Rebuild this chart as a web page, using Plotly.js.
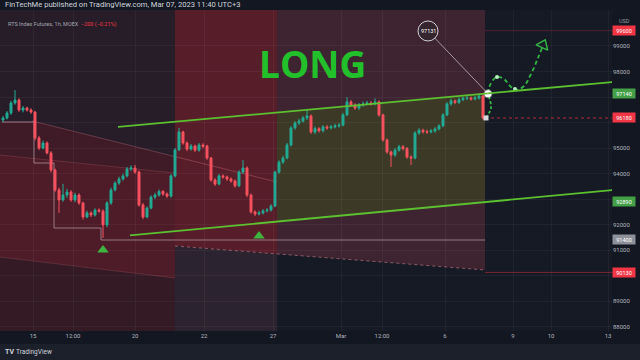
<!DOCTYPE html>
<html><head><meta charset="utf-8">
<script src="https://cdn.plot.ly/plotly-3.0.1.min.js"></script>
<style>html,body{margin:0;padding:0;background:#131722;}#chart{width:640px;height:360px;}</style>
</head><body><div id="chart"></div>
<script>
// ---- candle data (RTS Index Futures, 1h, MOEX) ----
const openP = [96100,96180,96375,96767,96884,96490,96570,96490,96410,95395,
95000,95200,94810,94140,93360,92970,93160,93280,92970,93160,
92850,92300,92460,92380,92570,92530,91990,92850,93360,93630,
93790,93910,94180,94220,94060,92770,92300,92650,93080,93160,
93300,93200,93120,93910,94930,95630,95200,94960,95080,94920,
95120,95080,94610,93750,93590,93910,93870,93790,93710,93520,
94060,94220,93160,92500,92420,92460,92540,92570,92730,94060,
94450,94610,95120,95790,95980,96060,96180,96260,95630,95760,
95680,95830,95790,95830,95870,95900,96300,96810,96690,96570,
96690,96730,96770,96730,96810,96300,95320,94850,94730,94920,
95050,94980,94650,94610,95590,95700,95640,95630,95670,95750,
95870,96300,96730,96850,96790,96900,96950,96960,96920,96960,
97040];
const highP = [96260,96450,96850,97276,96950,96650,96620,96560,96460,95480,
95300,95260,94880,94200,93450,93600,93400,93350,93250,93230,
92900,92550,92520,92640,92640,92600,92920,93450,93700,93880,
94000,94260,94330,94340,94120,92850,92720,93150,93250,93380,
93360,93260,93980,95000,95790,95680,95260,95160,95140,95200,
95190,95130,94660,93820,93990,93970,93920,93850,93770,94130,
94530,94280,93220,92560,92540,92610,92650,92800,94120,94520,
94700,95200,95860,96060,96150,96260,96490,96320,95850,95820,
95900,95900,95910,95950,95980,96380,97000,96880,96760,96770,
96820,96850,96840,96950,96870,96350,95380,94900,95000,95130,
95120,95040,94720,95660,95780,95760,95720,95750,95820,95940,
96370,96800,96940,96900,96980,97020,97050,97020,97040,97110,
97140];
const lowP = [96020,96120,96300,96700,96420,96400,96430,96340,95300,94920,
94950,94750,94050,93280,92460,92900,93050,92900,92880,92780,
92200,92250,92300,92320,92470,91480,91900,92780,93300,93560,
93720,93850,94100,93990,92700,92220,92250,92600,93000,93100,
93130,93050,93060,93850,94880,95130,94880,94900,94850,94860,
95000,94540,93680,93520,93540,93800,93720,93640,93450,93470,
94000,93080,92430,92340,92360,92400,92480,92510,92680,93990,
94380,94560,95060,95720,95900,96000,96100,95560,95550,95610,
95620,95720,95730,95770,95800,95850,96250,96620,96500,96500,
96620,96680,96660,96680,96230,95250,94780,94260,94660,94860,
94910,94580,94340,94560,95520,95570,95560,95580,95600,95690,
95820,96250,96660,96720,96730,96840,96880,96860,96870,96900,
96120];
const closeP = [96180,96375,96767,96884,96490,96570,96490,96410,95395,95000,
95200,94810,94140,93360,92970,93160,93280,92970,93160,92850,
92300,92460,92380,92570,92530,91990,92850,93360,93630,93790,
93910,94180,94220,94060,92770,92300,92650,93080,93160,93300,
93200,93120,93910,94930,95630,95200,94960,95080,94920,95120,
95080,94610,93750,93590,93910,93870,93790,93710,93520,94060,
94220,93160,92500,92420,92460,92540,92570,92730,94060,94450,
94610,95120,95790,95980,96060,96180,96260,95630,95760,95680,
95830,95790,95830,95870,95900,96300,96810,96690,96570,96690,
96730,96770,96730,96810,96300,95320,94850,94730,94920,95050,
94980,94650,94610,95590,95700,95640,95630,95670,95750,95870,
96300,96730,96850,96790,96900,96950,96960,96920,96960,97040,
96180];
const barIdx = closeP.map((_, i) => i);

// ---- axes ----
const timeTicks  = [7.5, 17.5, 33, 50.25, 67.5, 84.5, 94.75, 110.5, 127.5, 137, 151.25];
const timeLabels = ['15','12:00','20','22','27','Mar','12:00','6','9','10','13'];
const priceTicks  = [88000,89000,90000,91000,92000,93000,94000,95000,96000,97000,98000,99000];
const priceLabels = ['88000','89000','','91000','92000','','94000','95000','','','98000','99000'];
const xRange = [-0.75, 152.25];
const yRange = [87834, 100410];

// ---- drawings (time index, price) ----
const upperChannelT = [28.75, 153.25], upperChannelP = [95830, 97600];
const lowerChannelT = [31.75, 152.25], lowerChannelP = [91580, 93350];
const signalT = [25, 64], signalP = [91007, 91556];
const riseT = [120.75, 122.0, 121.6, 121.25], riseP = [96180, 96571, 96960, 97131];
const forecastT = [121.25, 122.0, 123.5, 125.25, 126.75, 128.25, 130.25, 132.0, 133.75, 134.75];
const forecastP = [97131, 97550, 97785, 97707, 97433, 97276, 97433, 97903, 98530, 98922];
const nodeT = [123.5, 128.0], nodeP = [97785, 97315];
const arrowT = [135.0], arrowP = [99040];
const touchT = 121.25, touchP = 97131;
const calloutT = 106.25, calloutP = 99588, calloutText = '97131';
const lastT = 120.75, lastP = 96180;
const stepT = [-0.25, 7.75, 7.75, 12.75, 12.75, 24.5, 24.5, 120.5];
const stepP = [96022, 96022, 94416, 94416, 91869, 91869, 91399, 91399];
const priceTags = [99600, 97140, 96180, 92890, 91400, 90130];
const tagText = ['99600','97140','96180','92890','91400','90130'];
const longT = 77.25, longP = 98295;

// zones
const zLeftAll   = {t:[-0.75,43,43,-0.75], p:[100410,100410,87834,87834]};
const zLeftTop   = {t:[-0.75,43,43,7.25,-0.75], p:[100410,100410,94650,96062,96062]};
const zLeftMid   = {t:[-0.75,43,43,-0.75], p:[94729,94024,89910,90733]};
const zLeftBot   = {t:[-0.75,43,43,-0.75], p:[90733,89910,87834,87834]};
const zColRed    = {t:[43,68.5,68.5,43], p:[100410,100410,90850,91164]};
const zColGrey   = {t:[43,68.5,68.5,43], p:[91164,90850,87834,87834]};
const zMauve     = {t:[68.5,120.5,120.5,68.5], p:[100410,100410,90224,90850]};
const zOlive     = {t:[68.5,120.5,120.5,68.5], p:[96395,97134,92884,92120]};

const tagColors = ['#f23645','#43a047','#f23645','#43a047','#8d9099','#f23645'];

function poly(z, color) {
  return {type:'path', xref:'x', yref:'y', layer:'below',
    path: 'M' + z.t.map((t,i)=>t+','+z.p[i]).join(' L') + ' Z',
    fillcolor: color, line:{width:0}};
}
function seg(t0,p0,t1,p1,color,width,dash,layer) {
  return {type:'line', xref:'x', yref:'y', x0:t0, y0:p0, x1:t1, y1:p1,
    line:{color:color, width:width, dash:dash||'solid'}, layer:layer||'above'};
}

const shapes = [
  poly(zLeftAll, '#3e1b26'),
  poly(zLeftTop, '#271d29'),
  poly(zLeftMid, '#4d1c28'),
  poly(zLeftBot, '#331a25'),
  poly(zColRed, '#571e2a'),
  poly(zColGrey, '#2c2330'),
  poly(zMauve, '#3e2431'),
  poly(zOlive, '#3d3927'),
  seg(7.25,96062,68.5,93671,'rgba(255,140,150,0.28)',1,'solid','below'),
  seg(-0.75,94729,43,94024,'rgba(255,140,150,0.18)',1,'solid','below'),
  seg(-0.75,90733,43,89910,'rgba(255,140,150,0.18)',1,'solid','below'),
  seg(43,91164,120.5,90224,'rgba(255,160,170,0.45)',1,'dot','below'),
  {type:'path', xref:'x', yref:'y', layer:'below',
   path:'M' + stepT.map((t,i)=>t+','+stepP[i]).join(' L'),
   line:{color:'rgba(215,195,205,0.55)', width:1}},
  seg(120.5,99600,152.25,99600,'rgba(242,54,69,0.25)',1,'solid','below'),
  seg(120.5,90130,152.25,90130,'rgba(242,54,69,0.45)',1,'solid','below'),
  seg(120.5,96180,152.25,96180,'rgba(242,54,69,0.7)',1,'dot','below'),
  seg(upperChannelT[0],upperChannelP[0],upperChannelT[1],upperChannelP[1],'#5cc030',1.8),
  seg(lowerChannelT[0],lowerChannelP[0],lowerChannelT[1],lowerChannelP[1],'#5cc030',1.8),
  seg(calloutT,calloutP,touchT,touchP,'rgba(230,230,235,0.75)',0.8),
  {type:'circle', xref:'x', yref:'y', xsizemode:'pixel', ysizemode:'pixel',
   xanchor:calloutT, yanchor:calloutP, x0:-10, x1:10, y0:-10, y1:10,
   fillcolor:'#35252f', line:{color:'rgba(235,235,240,0.85)', width:1}},
  // footer band
  {type:'rect', xref:'paper', yref:'paper', x0:-0.01, x1:1.1, y0:-0.0405, y1:-0.12,
   fillcolor:'#1c202b', line:{width:0}, layer:'below'}
];

const traces = [
  {type:'candlestick', x:barIdx, open:openP, high:highP, low:lowP, close:closeP,
   increasing:{line:{color:'#22ab94', width:1}, fillcolor:'#22ab94'},
   decreasing:{line:{color:'#f7525f', width:1}, fillcolor:'#f7525f'},
   whiskerwidth:0, hoverinfo:'skip', showlegend:false},
  {type:'scatter', mode:'markers', x:signalT, y:signalP,
   marker:{symbol:'triangle-up', size:10, color:'#3fb43f'}, hoverinfo:'skip', showlegend:false},
  {type:'scatter', mode:'lines', x:riseT, y:riseP,
   line:{color:'#34b444', width:1.8, dash:'3px,2px', shape:'spline'}, hoverinfo:'skip', showlegend:false},
  {type:'scatter', mode:'lines', x:forecastT, y:forecastP,
   line:{color:'#34b444', width:1.8, dash:'4px,3px', shape:'spline', smoothing:1.1}, hoverinfo:'skip', showlegend:false},
  {type:'scatter', mode:'markers', x:nodeT, y:nodeP,
   marker:{symbol:'circle', size:4, color:'#b8f0c0'}, hoverinfo:'skip', showlegend:false},
  {type:'scatter', mode:'markers', x:arrowT, y:arrowP,
   marker:{symbol:'triangle-up-open', size:11, angle:24, color:'#34b444', line:{width:1.5, color:'#34b444'}}, hoverinfo:'skip', showlegend:false},
  {type:'scatter', mode:'markers', x:[touchT], y:[touchP],
   marker:{symbol:'circle', size:7, color:'#ffffff', line:{width:2, color:'rgba(255,255,255,0.35)'}}, hoverinfo:'skip', showlegend:false},
  {type:'scatter', mode:'markers', x:[lastT], y:[lastP],
   marker:{symbol:'square', size:5, color:'#d8d8dc'}, hoverinfo:'skip', showlegend:false}
];

const annotations = [
  {xref:'x', yref:'y', x:longT, y:longP, text:'<b>LONG</b>', showarrow:false,
   font:{family:'Open Sans', size:37, color:'#22c02a'}},
  {xref:'x', yref:'y', x:calloutT, y:calloutP, text:calloutText, showarrow:false,
   font:{family:'Roboto', size:5.5, color:'#ffffff'}},
  {xref:'paper', yref:'paper', x:0, y:1.0156, xanchor:'left', yanchor:'middle', xshift:3,
   text:'FinTechMe published on TradingView.com, Mar 07, 2023 11:40 UTC+3', showarrow:false,
   font:{family:'Roboto', size:7.6, color:'#d1d4dc'}},
  {xref:'paper', yref:'paper', x:0, y:0.956, xanchor:'left', yanchor:'middle', xshift:6,
   text:'RTS Index Futures, 1h, MOEX  <span style="color:#f23645">−200 (−0.21%)</span>', showarrow:false,
   font:{family:'Roboto', size:5.5, color:'#a3a6af'}},
  {xref:'paper', yref:'paper', x:1, y:0.9657, xanchor:'center', yanchor:'middle', xshift:12,
   text:'USD', showarrow:false, font:{family:'Roboto', size:5.5, color:'#9598a1'}},
  {xref:'paper', yref:'paper', x:0, y:-0.0654, xanchor:'left', yanchor:'middle', xshift:3,
   text:'<b>TV</b>', showarrow:false, font:{family:'Roboto', size:7, color:'#d1d4dc'}},
  {xref:'paper', yref:'paper', x:0, y:-0.0654, xanchor:'left', yanchor:'middle', xshift:14,
   text:'TradingView', showarrow:false, font:{family:'Roboto', size:6.5, color:'#d1d4dc'}}
];
priceTags.forEach((p, i) => {
  annotations.push({xref:'paper', yref:'y', x:1, y:p, xanchor:'left', yanchor:'middle',
    text:tagText[i], showarrow:false, bgcolor:tagColors[i], width:21, height:8, borderpad:0.5,
    font:{family:'Roboto', size:5.5, color:'#ffffff'}});
});

const layout = {
  width:640, height:360,
  margin:{l:0, r:28, t:10, b:29},
  paper_bgcolor:'#131722', plot_bgcolor:'#161a25',
  showlegend:false, hovermode:false,
  xaxis:{range:xRange, tickvals:timeTicks, ticktext:timeLabels, showgrid:true,
    gridcolor:'rgba(255,255,255,0.045)', zeroline:false, showline:false, ticks:'',
    rangeslider:{visible:false}, fixedrange:true,
    tickfont:{family:'Roboto', size:6, color:'#b2b5be'}},
  yaxis:{range:yRange, side:'right', tickvals:priceTicks, ticktext:priceLabels, showgrid:true,
    gridcolor:'rgba(255,255,255,0.045)', zeroline:false, showline:false, ticks:'',
    fixedrange:true, tickfont:{family:'Roboto', size:6, color:'#b2b5be'}},
  shapes:shapes,
  annotations:annotations
};

Plotly.newPlot('chart', traces, layout, {staticPlot:true, displayModeBar:false});
</script>
</body></html>
